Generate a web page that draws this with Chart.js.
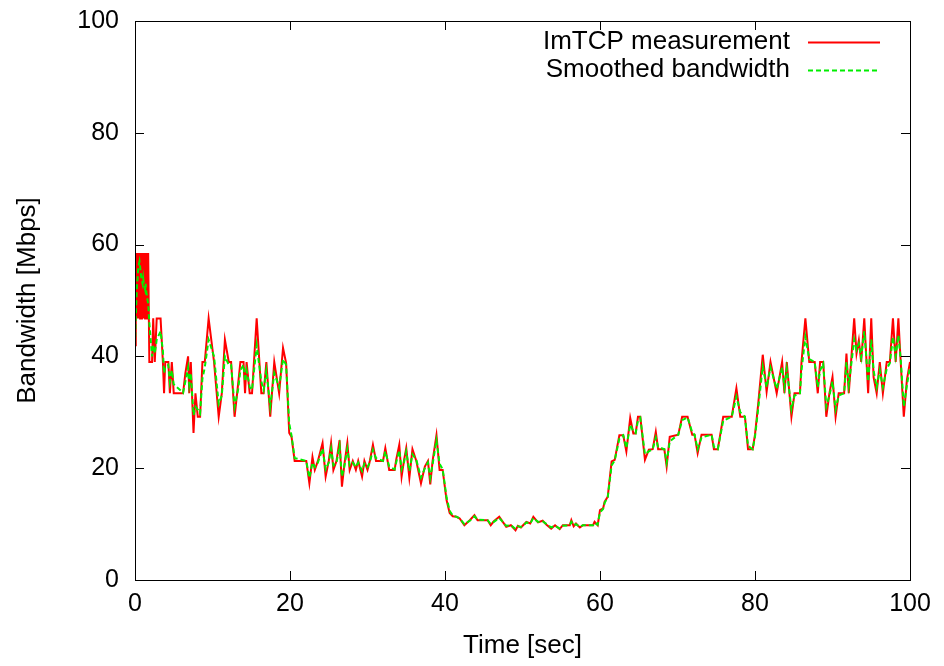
<!DOCTYPE html>
<html>
<head>
<meta charset="utf-8">
<script src="https://cdn.jsdelivr.net/npm/chart.js@4.4.1/dist/chart.umd.min.js"></script>
<style>
html,body{margin:0;padding:0;background:#fff;}
#wrap{width:944px;height:666px;}
</style>
</head>
<body>
<div id="wrap"><canvas id="c" width="944" height="666"></canvas></div>
<script>
const timeSec = [0,0.1,0.18,0.26,0.34,0.42,0.5,0.58,0.66,0.74,0.82,0.9,0.98,1.06,1.14,1.22,1.3,1.38,1.46,1.54,1.62,1.7,1.85,2.2,2.35,2.55,2.8,3.3,3.6,3.75,3.9,4.3,4.5,4.75,5.0,6.2,6.5,6.85,7.0,7.2,7.55,7.8,8.1,8.4,8.7,9.0,9.5,10.2,10.8,11.2,11.6,12.1,12.4,12.85,13.3,13.6,14.0,14.2,14.4,14.8,15.1,15.7,16.3,16.6,16.95,17.45,17.97,18.6,19.1,19.5,19.9,20.2,20.6,22.1,22.5,22.9,23.2,23.6,24.2,24.6,25.0,25.3,25.6,26.0,26.4,26.7,27.0,27.4,27.7,28.1,28.5,28.8,29.3,29.6,30.0,30.3,30.7,31.1,32.0,32.3,32.8,33.5,33.7,34.1,34.4,34.7,35.0,35.4,35.8,36.3,36.9,37.4,37.8,38.1,38.4,38.9,39.3,39.7,40.2,40.6,41.0,41.5,41.9,42.5,43.2,43.8,44.2,45.5,45.9,46.3,47.0,47.9,48.5,49.1,49.4,49.8,50.3,50.5,51.0,51.4,52.0,52.6,53.1,53.7,54.2,54.8,55.2,56.1,56.3,56.6,56.9,57.4,57.8,59.1,59.3,59.7,60.0,60.4,60.6,61.0,61.5,61.9,62.5,63.0,63.4,63.9,64.3,64.6,64.9,65.2,65.8,66.3,66.8,67.2,67.5,68.3,68.6,69.0,70.1,70.6,71.3,71.9,72.2,72.6,73.1,74.4,74.7,75.2,75.9,77.0,77.6,78.1,78.7,79.1,79.7,80.0,80.4,81.0,81.5,82.0,82.8,83.5,83.8,84.1,84.7,85.1,85.8,86.0,86.5,87.0,87.7,88.1,88.4,88.8,89.2,89.6,90.0,90.4,90.8,91.5,91.8,92.1,92.8,93.1,93.4,93.7,94.1,94.6,95.0,95.3,95.7,96.1,96.5,97.0,97.4,97.8,98.15,98.5,98.8,99.2,99.6,100];
const measured = [42,58.5,46.8,58.5,46.8,58.5,46.8,58.5,46.8,58.5,46.8,58.5,46.8,58.5,46.8,58.5,46.8,58.5,46.8,58.5,46.8,58.5,39,39,46.8,39,46.8,46.8,39,33.4,39,39,33.4,39,33.4,33.4,37,40,33.4,39,26.3,33.4,29.2,29.2,39,39,46.8,39,29.2,33.4,43,39,39,29.2,35,39,39,33.4,39,33.4,33.4,46.8,33.4,33.4,39,29.2,39,33.4,41.5,38.8,26.3,25.6,21.3,21.3,17.3,22,19.7,21.3,24.5,18.5,21.3,24.5,19.7,21.3,25,16.7,20.5,24.5,19.7,21.3,19.7,21.3,18.5,21.3,19.7,21.3,24.2,21.3,21.3,23.6,19.7,19.7,21.5,24.2,18.5,21.3,23.6,18.3,23.4,21.3,17.3,20.3,21.3,17.1,21.3,25.9,19.7,19.7,14.3,12,11.4,11.3,11,9.8,10.7,11.6,10.7,10.7,9.8,10.5,11.3,9.5,9.8,8.9,9.7,9.4,10.1,10.4,10.1,11.3,10.3,10.6,9.9,9.2,9.8,9.1,9.8,9.8,10.7,9.6,10.1,9.4,9.8,9.8,10.4,9.8,12.5,12.8,14.0,14.9,21.2,21.5,25.9,25.9,23.0,29.0,26.2,26.2,29.2,29.2,21.5,23.3,23.4,26.5,23.4,23.4,20.3,25.6,26,29.2,29.2,26,26,22.7,26,26,23.4,23.4,29.2,29.2,34.3,29.2,29.2,23.4,23.4,26,31.3,40.3,33.7,39,33.4,39,33.4,39,29.2,33.4,33.4,39,46.8,39,39,33.4,39,39,29.2,33.4,36.3,29.2,33.4,33.4,40.5,33.4,46.8,40.5,42.9,39,46.8,33.4,46.8,36.3,33.4,39,33.4,39,39,46.8,39,46.8,39,29.2,35.8,39];
const smoothed = [42,47,50,53,54,56,56.5,57,56,55,54,53.5,53,54,53,52.5,52,53,51.5,51,50,49.5,46,40,42,40.5,43,44.5,41,37,38,38.5,35.5,37.5,35,33.5,35.5,38,35,37,29.5,31,30.5,29.8,36,38,43,40,31.5,33,40,38.5,38.5,31,34,37.5,38.5,35.5,37.5,34.5,34,42,35.5,34,37.5,31,37,34.5,39.5,38.5,28,25.8,21.8,21.3,18.3,21,20.2,21,23.5,19.8,21,23.5,20.5,21,24,18.5,20.2,23.5,20.5,21,20.2,21,19.5,20.8,20.2,21,23.3,21.8,21.3,23,20.3,19.8,21,23.2,19.8,21,23,19.5,22.5,21.5,18.3,20,21,18.3,20.7,25,20.8,19.8,14.8,12.4,11.5,11.3,11,10,10.6,11.4,10.8,10.7,10,10.4,11.1,9.7,9.8,9.1,9.6,9.5,10,10.3,10.1,11.1,10.4,10.5,10,9.4,9.7,9.2,9.7,9.8,10.4,9.8,10,9.5,9.8,9.8,10.2,9.9,12.1,12.7,13.8,14.8,20.5,21.4,25.3,25.9,23.6,27.8,26.6,26.3,28.5,29,22.5,23,23.4,25.5,23.8,23.4,21,24.8,26,28.6,29.1,26.4,26,23.4,25.5,26,23.8,23.4,28.5,29.2,32.8,30,29.2,24,23.4,25.6,30.5,38.2,34.5,38,34.2,38,34.5,37.8,30.5,33,33.4,37.5,43.5,39.5,39,34.5,37.5,38.7,31,33,35.5,30.5,33,33.4,39,34.8,43,41.2,42.3,39.8,44.5,35.5,43,37.5,34.5,37.5,34.5,37.8,38.8,43.5,40,43.8,39.5,31,34.8,38.2];
const axisTicks = [0,20,40,60,80,100];
const seriesLabels = ['ImTCP measurement','Smoothed bandwidth'];

const FONT = 'Liberation Sans, Arial, Helvetica, sans-serif';
const FS = 25;
const FS_LEGEND = 26;
const FS_TITLE = 26;

const frameAndTicks = {
  id: 'frameAndTicks',
  afterDraw(chart) {
    const {ctx, chartArea: a, scales} = chart;
    ctx.save();
    ctx.strokeStyle = '#000';
    ctx.lineWidth = 1;
    const L = 9;
    ctx.beginPath();
    axisTicks.forEach(v => {
      const x = Math.round(scales.x.getPixelForValue(v)) + 0.5;
      ctx.moveTo(x, a.bottom); ctx.lineTo(x, a.bottom - L);
      ctx.moveTo(x, a.top); ctx.lineTo(x, a.top + L);
      const y = Math.round(scales.y.getPixelForValue(v)) + 0.5;
      ctx.moveTo(a.left, y); ctx.lineTo(a.left + L, y);
      ctx.moveTo(a.right, y); ctx.lineTo(a.right - L, y);
    });
    ctx.stroke();
    ctx.strokeRect(Math.round(a.left) + 0.5, Math.round(a.top) + 0.5, Math.round(a.right - a.left), Math.round(a.bottom - a.top));
    // legend
    ctx.font = FS_LEGEND + 'px ' + FONT;
    ctx.textAlign = 'right';
    ctx.textBaseline = 'middle';
    chart.data.datasets.forEach((ds, i) => {
      const y = a.top + 21 + i * 28;
      ctx.fillStyle = '#000';
      ctx.fillText(ds.label, a.right - 120, y);
      ctx.strokeStyle = ds.borderColor;
      ctx.lineWidth = ds.borderWidth;
      ctx.setLineDash(ds.borderDash || []);
      ctx.beginPath();
      ctx.moveTo(a.right - 102, y + 0.5);
      ctx.lineTo(a.right - 30, y + 0.5);
      ctx.stroke();
      ctx.setLineDash([]);
    });
    ctx.restore();
  }
};

new Chart(document.getElementById('c'), {
  type: 'line',
  data: {
    datasets: [
      {
        label: seriesLabels[0],
        data: timeSec.map((t, i) => ({x: t, y: measured[i]})),
        borderColor: '#ff0000',
        borderWidth: 2,
        pointRadius: 0,
        tension: 0,
        fill: false,
        order: 1
      },
      {
        label: seriesLabels[1],
        data: timeSec.map((t, i) => ({x: t, y: smoothed[i]})),
        borderColor: '#00ee00',
        borderWidth: 2,
        borderDash: [5, 3],
        pointRadius: 0,
        tension: 0,
        fill: false,
        order: 0
      }
    ]
  },
  options: {
    responsive: false,
    animation: false,
    events: [],
    layout: { padding: { top: 21, right: 34, left: 0, bottom: 0 } },
    plugins: { legend: { display: false }, tooltip: { enabled: false } },
    scales: {
      x: {
        type: 'linear', min: 0, max: 100,
        afterBuildTicks: s => { s.ticks = axisTicks.map(v => ({value: v})); },
        afterFit: s => { s.height = 86; s.paddingLeft = 0; s.paddingRight = 0; },
        grid: { display: false, drawTicks: false },
        border: { display: false },
        ticks: { color: '#000', padding: 9, maxRotation: 0, font: { family: FONT, size: FS } },
        title: { display: true, text: 'Time [sec]', color: '#000', padding: { top: 0, bottom: 5 }, font: { family: FONT, size: FS_TITLE } }
      },
      y: {
        type: 'linear', min: 0, max: 100,
        afterBuildTicks: s => { s.ticks = axisTicks.map(v => ({value: v})); },
        afterFit: s => { s.width = 135; s.paddingTop = 0; s.paddingBottom = 0; },
        grid: { display: false, drawTicks: false },
        border: { display: false },
        ticks: { color: '#000', padding: 16, font: { family: FONT, size: FS } },
        title: { display: true, text: 'Bandwidth [Mbps]', color: '#000', padding: { top: 12, bottom: 0 }, font: { family: FONT, size: FS_TITLE } }
      }
    }
  },
  plugins: [frameAndTicks]
});
</script>
</body>
</html>
